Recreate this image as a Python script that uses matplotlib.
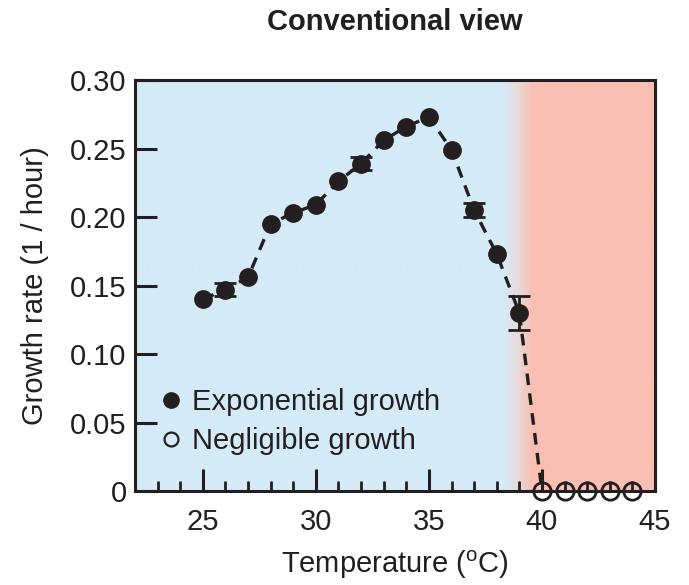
import numpy as np
import matplotlib
matplotlib.use("Agg")
import matplotlib.pyplot as plt
from matplotlib.colors import LinearSegmentedColormap
from matplotlib.lines import Line2D

plt.rcParams['font.family'] = ['Liberation Sans', 'DejaVu Sans']

# growth data
temp_exp = [25, 26, 27, 28, 29, 30, 31, 32, 33, 34, 35, 36, 37, 38, 39]
rate_exp = [0.140, 0.147, 0.156, 0.195, 0.203, 0.209, 0.226, 0.239,
            0.256, 0.266, 0.273, 0.249, 0.205, 0.173, 0.130]
err_exp = [0, 0.0045, 0, 0, 0, 0, 0, 0.0045,
           0, 0, 0, 0, 0.005, 0, 0.0125]
temp_neg = [40, 41, 42, 43, 44]
rate_neg = [0, 0, 0, 0, 0]

blue = '#d4ebf8'
pink = '#f9bfb2'
ink = '#231f20'

fig = plt.figure(figsize=(6.89, 5.85), dpi=100)
ax = fig.add_axes([135 / 689, 1 - 491 / 585, 520 / 689, 411 / 585])
ax.set_xlim(22, 45)
ax.set_ylim(0, 0.30)

# background: cool region, fade, hot region
cmap = LinearSegmentedColormap.from_list('bg', [blue, blue, '#e6dcdc', pink, pink],
                                         N=512)
xs = np.linspace(22, 45, 800)
vals = np.interp(xs, [22, 38.3, 38.9, 39.6, 45], [0, 0.25, 0.5, 0.75, 1])
ax.imshow(vals[np.newaxis, :], cmap=cmap, vmin=0, vmax=1, aspect='auto',
          extent=[22, 45, 0, 0.30], zorder=0)

# dashed connecting line through all points
ax.plot(temp_exp + temp_neg[:1], rate_exp + rate_neg[:1], ls=(0, (3.5, 2.5)),
        color=ink, lw=2.4, zorder=2)

# error bars only where measured spread is non-zero
has_err = [i for i, e in enumerate(err_exp) if e > 0]
ax.errorbar([temp_exp[i] for i in has_err], [rate_exp[i] for i in has_err],
            yerr=[err_exp[i] for i in has_err], fmt='none', ecolor=ink,
            capsize=8, capthick=2, elinewidth=2, zorder=3)
ax.plot(temp_exp, rate_exp, 'o', color=ink, ms=12.5, zorder=4)
ax.plot(temp_neg, rate_neg, 'o', mfc='none', mec=ink, mew=2, ms=12.5,
        zorder=4, clip_on=False)

ax.set_xticks([25, 30, 35, 40, 45])
ax.set_xticks(np.arange(23, 45), minor=True)
ax.set_yticks([0, 0.05, 0.10, 0.15, 0.20, 0.25, 0.30])
ax.set_yticklabels(['0', '0.05', '0.10', '0.15', '0.20', '0.25', '0.30'])
ax.tick_params(axis='both', which='major', direction='in', length=16, width=2.2,
               labelsize=21, color=ink, labelcolor=ink)
ax.tick_params(axis='x', which='major', pad=12)
ax.tick_params(axis='y', which='major', pad=6)
ax.tick_params(axis='x', which='minor', direction='in', length=7, width=2,
               color=ink)
ax.tick_params(axis='y', which='minor', left=False)
for s in ax.spines.values():
    s.set_linewidth(2.2)
    s.set_color(ink)

ax.set_xlabel('Temperature ($^{\\mathregular{o}}$C)', fontsize=21, labelpad=9,
              color=ink)
ax.set_ylabel('Growth rate (1 / hour)', fontsize=21, labelpad=15, color=ink)
ax.set_title('Conventional view', fontsize=21, fontweight='bold', pad=36,
             color=ink)

handles = [
    Line2D([], [], ls='none', marker='o', color=ink, ms=11),
    Line2D([], [], ls='none', marker='o', mfc='none', mec=ink, mew=1.6, ms=10),
]
ax.legend(handles, ['Exponential growth', 'Negligible growth'], loc='lower left',
          bbox_to_anchor=(0.0, 0.024), frameon=False, fontsize=21,
          handlelength=0.7, handletextpad=0.35, labelspacing=0.36,
          labelcolor=ink)

fig.savefig('out.png', dpi=100)
